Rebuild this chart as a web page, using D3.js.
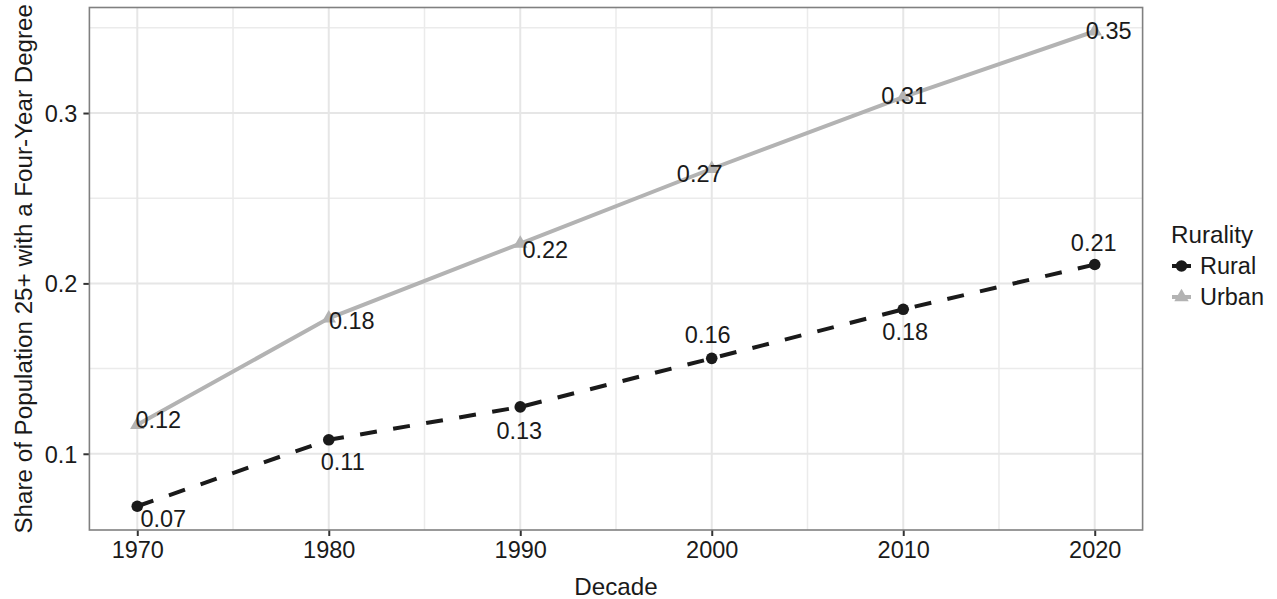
<!DOCTYPE html>
<html>
<head>
<meta charset="utf-8">
<script src="https://cdn.jsdelivr.net/npm/d3@7"></script>
<style>
  html, body { margin: 0; padding: 0; background: #fff; }
  svg { display: block; font-family: "Liberation Sans", Arial, Helvetica, sans-serif; }
</style>
</head>
<body>
<svg id="chart" width="1277" height="599"></svg>
<script>
// ---- data ----
const decades = [1970, 1980, 1990, 2000, 2010, 2020];
const ruralShare = [0.0692, 0.1082, 0.1275, 0.156, 0.1848, 0.2111];
const urbanShare = [0.1170, 0.1795, 0.2234, 0.2673, 0.3094, 0.3480];
const seriesNames = ["Rural", "Urban"];
const yTicks = [0.1, 0.2, 0.3];
const yMinorTicks = [0.15, 0.25, 0.35];
const xTicks = [1970, 1980, 1990, 2000, 2010, 2020];
const xMinorTicks = [1975, 1985, 1995, 2005, 2015];
// label offsets (px) relative to each point (repelled labels)
const ruralLabelDx = [26, 14, -1, -4, 2, -1];
const ruralLabelDy = [12, 22, 24, -24, 22, -22];
const urbanLabelDx = [21, 23, 25, -12, 1, 14];
const urbanLabelDy = [-5, 2, 6, 5, -1, -1];

const svg = d3.select("#chart");
const P = { left: 89.4, right: 1142.6, top: 7.5, bottom: 530 };
const FS = 23.5;
const TFS = 24.2;
const textCol = "#1a1a1a";

const allVals = ruralShare.concat(urbanShare);
const vmin = d3.min(allVals), vmax = d3.max(allVals), r = vmax - vmin;
const x = d3.scaleLinear().domain([1967.5, 2022.5]).range([P.left, P.right]);
const y = d3.scaleLinear().domain([vmin - 0.05 * r, vmax + 0.05 * r]).range([P.bottom, P.top]);

// grid
const grid = svg.append("g");
grid.selectAll(".vmin").data(xMinorTicks).enter().append("line")
  .attr("x1", d => x(d)).attr("x2", d => x(d)).attr("y1", P.top).attr("y2", P.bottom)
  .attr("stroke", "#ebebeb").attr("stroke-width", 1.5);
grid.selectAll(".hmin").data(yMinorTicks.filter(d => y(d) > P.top)).enter().append("line")
  .attr("y1", d => y(d)).attr("y2", d => y(d)).attr("x1", P.left).attr("x2", P.right)
  .attr("stroke", "#ebebeb").attr("stroke-width", 1.5);
grid.selectAll(".vmaj").data(xTicks).enter().append("line")
  .attr("x1", d => x(d)).attr("x2", d => x(d)).attr("y1", P.top).attr("y2", P.bottom)
  .attr("stroke", "#e6e6e6").attr("stroke-width", 2);
grid.selectAll(".hmaj").data(yTicks).enter().append("line")
  .attr("y1", d => y(d)).attr("y2", d => y(d)).attr("x1", P.left).attr("x2", P.right)
  .attr("stroke", "#e6e6e6").attr("stroke-width", 2);

// axes
const xAxis = svg.append("g").attr("transform", `translate(0,${P.bottom})`)
  .call(d3.axisBottom(x).tickValues(xTicks).tickFormat(d3.format("d")).tickSize(6).tickPadding(5));
const yAxis = svg.append("g").attr("transform", `translate(${P.left},0)`)
  .call(d3.axisLeft(y).tickValues(yTicks).tickFormat(d3.format(".1f")).tickSize(6).tickPadding(6));
[xAxis, yAxis].forEach(a => {
  a.select(".domain").remove();
  a.selectAll(".tick line").attr("stroke", "#333").attr("stroke-width", 2);
  a.selectAll(".tick text").attr("font-size", FS).attr("fill", textCol)
    .attr("font-family", "Liberation Sans, Arial, sans-serif");
});
yAxis.selectAll(".tick text").attr("dy", "0.36em");

// panel border
svg.append("rect").attr("x", P.left).attr("y", P.top)
  .attr("width", P.right - P.left).attr("height", P.bottom - P.top)
  .attr("fill", "none").attr("stroke", "#808080").attr("stroke-width", 1.6);

// lines
const line = d3.line().x(d => x(d[0])).y(d => y(d[1]));
const urbanPts = decades.map((d, i) => [d, urbanShare[i]]);
const ruralPts = decades.map((d, i) => [d, ruralShare[i]]);
const urbanCol = "#b3b3b3", ruralCol = "#1a1a1a";

svg.append("path").datum(urbanPts).attr("d", line)
  .attr("fill", "none").attr("stroke", urbanCol).attr("stroke-width", 4);
svg.append("path").datum(ruralPts).attr("d", line)
  .attr("fill", "none").attr("stroke", ruralCol).attr("stroke-width", 4)
  .attr("stroke-dasharray", "17,16.5");

const tri = d3.symbol().type(d3.symbolTriangle).size(90);
svg.selectAll(".upt").data(urbanPts).enter().append("path")
  .attr("d", tri).attr("transform", d => `translate(${x(d[0])},${y(d[1])})`)
  .attr("fill", urbanCol);
svg.selectAll(".rpt").data(ruralPts).enter().append("circle")
  .attr("cx", d => x(d[0])).attr("cy", d => y(d[1])).attr("r", 5.8)
  .attr("fill", ruralCol);

// labels
const fmt = d3.format(".2f");
function addLabels(pts, dx, dy) {
  svg.selectAll(null).data(pts).enter().append("text")
    .attr("x", (d, i) => x(d[0]) + dx[i])
    .attr("y", (d, i) => y(d[1]) + dy[i])
    .attr("dy", "0.36em")
    .attr("text-anchor", "middle")
    .attr("font-size", FS).attr("fill", textCol)
    .text(d => fmt(d[1]));
}
addLabels(urbanPts, urbanLabelDx, urbanLabelDy);
addLabels(ruralPts, ruralLabelDx, ruralLabelDy);

// axis titles
svg.append("text").attr("x", (P.left + P.right) / 2).attr("y", 595)
  .attr("text-anchor", "middle").attr("font-size", TFS).attr("fill", textCol).text("Decade");
svg.append("text").attr("transform", `translate(32,${(P.top + P.bottom) / 2}) rotate(-90)`)
  .attr("text-anchor", "middle").attr("font-size", TFS).attr("fill", textCol)
  .text("Share of Population 25+ with a Four-Year Degree");

// legend
const lg = svg.append("g");
lg.append("text").attr("x", 1171).attr("y", 243).attr("font-size", TFS).attr("fill", textCol).text("Rurality");
const keys = [
  { name: seriesNames[0], col: ruralCol, shape: "circle", cy: 266 },
  { name: seriesNames[1], col: urbanCol, shape: "tri", cy: 297 }
];
keys.forEach(k => {
  lg.append("line").attr("x1", 1172).attr("x2", 1191).attr("y1", k.cy).attr("y2", k.cy)
    .attr("stroke", k.col).attr("stroke-width", 4);
  if (k.shape === "circle") {
    lg.append("circle").attr("cx", 1181.5).attr("cy", k.cy).attr("r", 5.8).attr("fill", k.col);
  } else {
    lg.append("path").attr("d", tri).attr("transform", `translate(1181.5,${k.cy})`).attr("fill", k.col);
  }
  lg.append("text").attr("x", 1200).attr("y", k.cy).attr("dy", "0.36em")
    .attr("font-size", FS).attr("fill", textCol).text(k.name);
});
</script>
</body>
</html>
